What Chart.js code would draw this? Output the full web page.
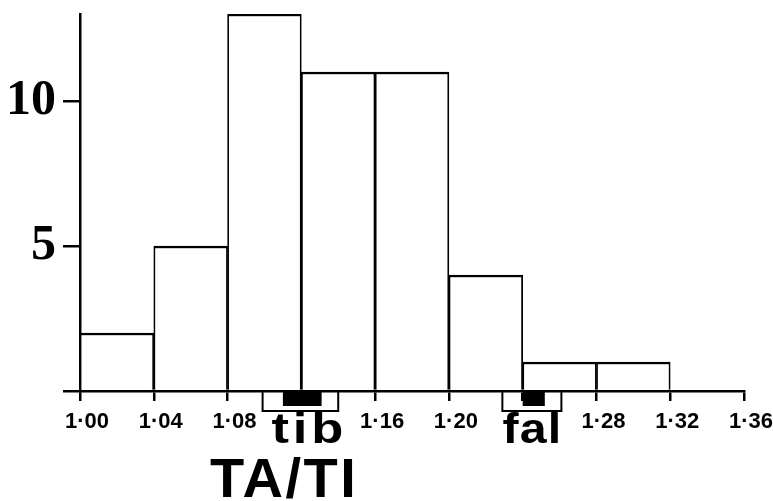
<!DOCTYPE html>
<html>
<head>
<meta charset="utf-8">
<script src="https://cdn.jsdelivr.net/npm/chart.js@4/dist/chart.umd.min.js"></script>
<style>
  html, body { margin: 0; padding: 0; background: #fff; }
  #wrap { width: 773px; height: 501px; }
</style>
</head>
<body>
<div id="wrap"><canvas id="c" width="773" height="501"></canvas></div>
<script>
// ---- data ----
const binLabels = ['1·00–1·04','1·04–1·08','1·08–1·12','1·12–1·16','1·16–1·20','1·20–1·24','1·24–1·28','1·28–1·32','1·32–1·36'];
const counts = [2, 5, 13, 11, 11, 4, 1, 1, 0];
const xTickValues = [1.00, 1.04, 1.08, 1.12, 1.16, 1.20, 1.24, 1.28, 1.32, 1.36];
const xTickLabels = ['1·00','1·04','1·08','1·12','1·16','1·20','1·24','1·28','1·32','1·36'];
const xShownLabels = ['1·00','1·04','1·08','1·16','1·20','1·28','1·32','1·36'];
const yTickValues = [0, 5, 10];
const yTickLabels = ['', '5', '10'];
const tibRange = [1.099, 1.140];
const tibCore = [1.110, 1.131];
const falRange = [1.229, 1.261];
const falCore = [1.240, 1.252];
const axisTitle = 'TA/TI';

const annot = {
  id: 'annot',
  afterDraw(chart) {
    const ctx = chart.ctx;
    const xs = chart.scales.x2;
    const y0 = chart.chartArea.bottom;
    ctx.save();
    function bracket(range, core) {
      const a = xs.getPixelForValue(range[0]), b = xs.getPixelForValue(range[1]);
      const c1 = xs.getPixelForValue(core[0]), c2 = xs.getPixelForValue(core[1]);
      ctx.fillStyle = '#000';
      ctx.fillRect(c1, y0, c2 - c1, 15);
      ctx.strokeStyle = '#000';
      ctx.lineWidth = 2;
      ctx.beginPath();
      ctx.moveTo(a, y0); ctx.lineTo(a, y0 + 20); ctx.lineTo(b, y0 + 20); ctx.lineTo(b, y0);
      ctx.stroke();
    }
    bracket(tibRange, tibCore);
    bracket(falRange, falCore);
    function label(text, cx, baseline, size, spacing, sx) {
      ctx.save();
      ctx.font = 'bold ' + size + 'px "Liberation Sans", Arial, sans-serif';
      ctx.letterSpacing = spacing + 'px';
      ctx.textAlign = 'left';
      ctx.textBaseline = 'alphabetic';
      ctx.fillStyle = '#000';
      const w = (ctx.measureText(text).width - spacing) * sx;
      ctx.translate(cx - w / 2, baseline);
      ctx.scale(sx, 1);
      ctx.fillText(text, 0, 0);
      ctx.restore();
    }
    label('tib', xs.getPixelForValue((tibRange[0] + tibRange[1]) / 2) + 7, y0 + 52, 42, 3, 1.25);
    label('fal', xs.getPixelForValue((falRange[0] + falRange[1]) / 2), y0 + 52, 42, 1, 1.15);
    label(axisTitle, xs.getPixelForValue(1.11), y0 + 106, 56, 2.5, 1);
    ctx.restore();
  }
};

new Chart(document.getElementById('c'), {
  type: 'bar',
  data: {
    labels: binLabels,
    datasets: [{
      data: counts,
      backgroundColor: '#ffffff',
      borderColor: '#000000',
      borderWidth: { top: 2.5, left: 1.75, right: 1.75, bottom: 0 },
      borderSkipped: false,
      barPercentage: 1,
      categoryPercentage: 1,
      xAxisID: 'x',
      yAxisID: 'y'
    }]
  },
  options: {
    responsive: false,
    devicePixelRatio: 1,
    animation: false,
    layout: { padding: { left: 0, top: 14, right: 29, bottom: 0 } },
    plugins: { legend: { display: false }, tooltip: { enabled: false } },
    scales: {
      x: { type: 'category', display: false, offset: true },
      x2: {
        type: 'linear',
        position: 'bottom',
        offset: false,
        min: xTickValues[0],
        max: xTickValues[xTickValues.length - 1],
        afterBuildTicks: s => { s.ticks = xTickValues.map(v => ({ value: v })); },
        afterFit: s => { s.height = 110; s.paddingLeft = 0; s.paddingRight = 0; },
        grid: { offset: false, drawOnChartArea: false, drawTicks: true, tickLength: 10, color: '#000', lineWidth: 2.5 },
        border: { display: true, color: '#000', width: 2.5 },
        ticks: {
          autoSkip: false,
          maxRotation: 0,
          padding: 8,
          labelOffset: 7,
          color: '#000',
          font: { family: '"Liberation Sans", Arial, sans-serif', size: 22, weight: 'bold' },
          callback: (v, i) => {
            const l = xTickLabels[i];
            return xShownLabels.includes(l) ? l : '';
          }
        }
      },
      y: {
        min: 0,
        max: 13,
        afterBuildTicks: s => { s.ticks = yTickValues.map(v => ({ value: v })); },
        afterFit: s => { s.width = 80; s.paddingTop = 0; s.paddingBottom = 0; },
        grid: { drawOnChartArea: false, drawTicks: true, tickLength: 17, color: '#000', lineWidth: 2.5 },
        border: { display: true, color: '#000', width: 2.5 },
        ticks: {
          padding: 7,
          color: '#000',
          font: { family: '"Liberation Serif", "Times New Roman", serif', size: 50, weight: 'bold' },
          callback: (v, i) => yTickLabels[i]
        }
      }
    }
  },
  plugins: [annot]
});
</script>
</body>
</html>
